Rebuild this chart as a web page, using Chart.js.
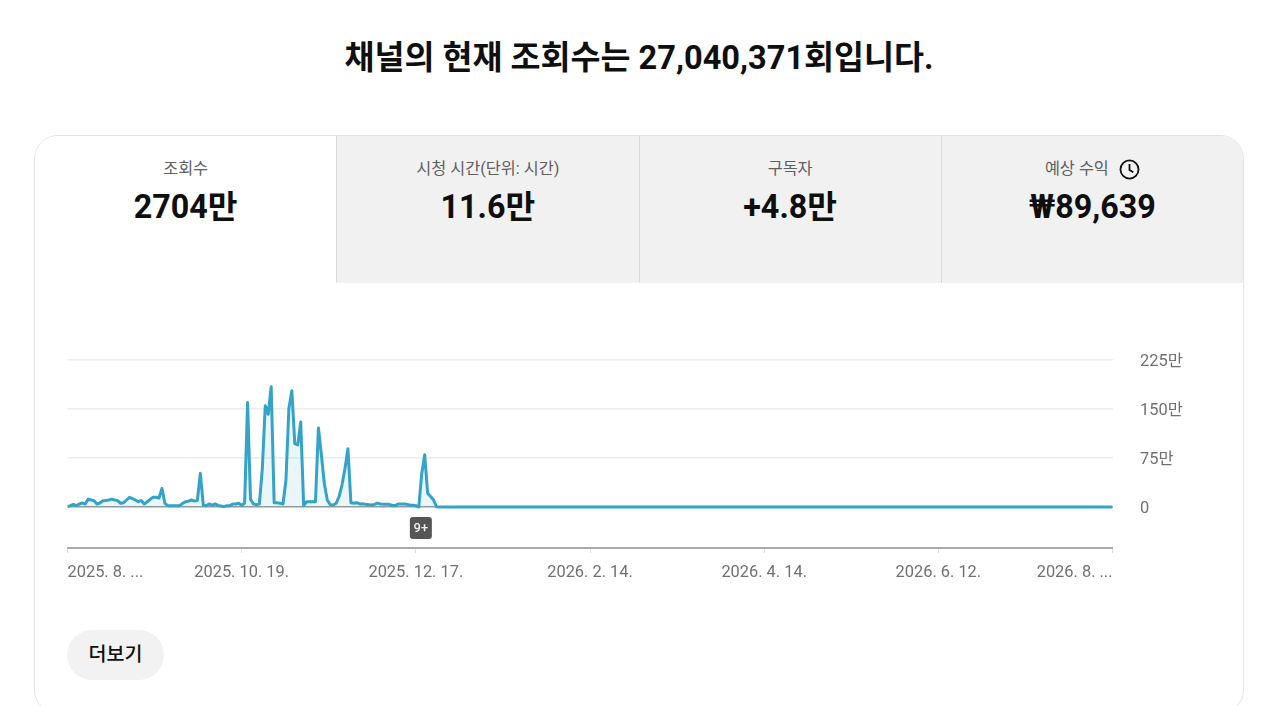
<!DOCTYPE html>
<html lang="ko">
<head>
<meta charset="utf-8">
<title>채널 조회수</title>
<script src="https://cdn.jsdelivr.net/npm/chart.js@4/dist/chart.umd.js"></script>
<style>
* { box-sizing: border-box; }
html, body { margin: 0; height: 706px; overflow: hidden; background: #fff; }
body { position: relative; font-family: Roboto, "Noto Sans CJK KR", sans-serif; color: #0f0f0f; }
h1 { position: absolute; left: 0; width: 1278px; top: 37px; margin: 0; text-align: center; font-size: 32.6px; line-height: 42px; font-weight: 700; }
.card { position: absolute; left: 34px; top: 135px; width: 1210px; height: 579px; border: 1px solid #e5e5e5; border-radius: 24px; overflow: hidden; }
.tabs { display: flex; height: 147px; }
.tab { flex: 1; background: #f1f1f1; border-left: 1px solid #d9d9d9; text-align: center; }
.tab.on { background: #fff; border-left: 0; }
.tab .name { margin-top: 22px; height: 22px; font-size: 16.3px; line-height: 22px; color: #606060; display: flex; justify-content: center; align-items: center; gap: 10px; }
.tab .val { margin-top: 6px; font-size: 32.3px; line-height: 42px; font-weight: 700; }
.wrap { position: absolute; left: 50px; top: 340px; width: 1150px; height: 240px; }
.more { position: absolute; left: 67px; top: 630px; width: 97px; height: 50px; border-radius: 25px; background: #f2f2f2; text-align: center; font-size: 19.5px; line-height: 50px; font-weight: 500; }
</style>
</head>
<body>
<h1>채널의 현재 조회수는 27,040,371회입니다.</h1>
<div class="card">
	<div class="tabs">
		<div class="tab on"><div class="name">조회수</div><div class="val">2704만</div></div>
		<div class="tab"><div class="name">시청 시간(단위: 시간)</div><div class="val">11.6만</div></div>
		<div class="tab"><div class="name">구독자</div><div class="val">+4.8만</div></div>
		<div class="tab"><div class="name">예상 수익
			<svg width="21" height="21" viewBox="0 0 20 20" fill="none" stroke="#0f0f0f" stroke-width="1.7"><circle cx="10" cy="10" r="8.6"/><path d="M10 4.8V10.4L13.6 12.6"/></svg>
		</div><div class="val">₩89,639</div></div>
	</div>
</div>
<div class="wrap"><canvas id="viewsChart"></canvas></div>
<div class="more">더보기</div>

<script>
// daily views (unit: 만), one entry per day from the first tick
var views = [
	0.5, 2, 4, 2, 4.6, 6, 4.6, 12, 10.7, 9.7,
	4.6, 6, 9.7, 10, 10.7, 12, 10.7, 9.7, 5.6, 6.6,
	10.7, 14.8, 12.8, 10.7, 8, 10, 4.6, 8, 11.7, 14.8,
	15, 13.8, 28.5, 5.6, 2, 2, 2, 2, 2, 5.6,
	8, 9, 10.7, 9, 10, 51.5, 3, 2, 4.6, 2.5,
	4.6, 2.5, 1.5, 0.5, 2, 2, 4.6, 4.6, 5.6, 2.5,
	5.6, 160, 11.7, 4.6, 3.6, 4.6, 59, 155, 142, 184,
	6.6, 6.6, 5.6, 4.6, 41, 151, 178, 97, 95, 130,
	2, 8, 8, 8, 8, 121, 80, 36, 10.7, 3.6,
	3, 5.6, 16, 34, 59, 89, 6.6, 5.6, 6.6, 4.6,
	5, 4, 3.5, 3, 4, 6, 4.5, 4, 4, 4,
	2.5, 2, 4.5, 4.5, 4.5, 4, 3, 2.5, 2, 0,
	51, 80, 21, 16, 10.7, 0.5, 0
];
var lastDay = 354;
var tickStep = 59;
var tickLabels = ['2025. 8. ...', '2025. 10. 19.', '2025. 12. 17.', '2026. 2. 14.', '2026. 4. 14.', '2026. 6. 12.', '2026. 8. ...'];
var yTicks = [0, 75, 150, 225];
var yLabels = ['0', '75만', '150만', '225만'];
var yMin = -62.8;
var badgeDay = 119.7;
var badgeText = '9+';

var tickFont = { family: 'Roboto, "Noto Sans CJK KR", sans-serif', size: 16.4 };

// little dark tag under the axis
var badgePlugin = {
	id: 'badge',
	afterDraw: function(chart) {
		var c = chart.ctx;
		var x = chart.scales.x.getPixelForValue(badgeDay);
		var y = 188;
		c.save();
		c.fillStyle = '#555';
		c.beginPath();
		c.roundRect(x - 11, y - 11, 22, 22, 3);
		c.fill();
		c.fillStyle = '#eeeeee';
		c.font = '500 13px Roboto, sans-serif';
		c.textAlign = 'center';
		c.textBaseline = 'middle';
		c.fillText(badgeText, x, y + 1);
		c.restore();
	}
};

var ctx = document.getElementById('viewsChart').getContext('2d');
var chart = new Chart(ctx, {
	type: 'line',
	data: {
		datasets: [{
			data: views.map(function(v, i) { return { x: i, y: v }; }).concat([{ x: lastDay, y: 0 }]),
			borderColor: '#33a3c8',
			borderWidth: 3,
			borderJoinStyle: 'round',
			backgroundColor: 'rgba(51, 163, 200, 0.1)',
			fill: { value: 0 },
			pointRadius: 0,
			tension: 0
		}]
	},
	options: {
		responsive: true,
		maintainAspectRatio: false,
		animation: false,
		layout: { padding: { left: 17.5, right: 0, top: 20, bottom: 0 } },
		plugins: { legend: { display: false }, tooltip: { enabled: false } },
		scales: {
			x: {
				type: 'linear',
				min: 0,
				max: lastDay,
				afterFit: function(scale) { scale.height = 32; },
				border: { color: '#aaaaaa', width: 2 },
				grid: { drawOnChartArea: false, tickLength: 5, tickColor: '#dddddd' },
				ticks: {
					stepSize: tickStep,
					autoSkip: false,
					maxRotation: 0,
					align: 'inner',
					padding: 10,
					color: '#707070',
					font: tickFont,
					callback: function(v, i) { return tickLabels[i]; }
				}
			},
			y: {
				position: 'right',
				min: yMin,
				max: 225,
				afterBuildTicks: function(scale) {
					scale.ticks = yTicks.map(function(v) { return { value: v }; });
				},
				afterFit: function(scale) { scale.width = 87.5; },
				border: { display: false },
				grid: {
					tickLength: 27.5,
					tickColor: 'transparent',
					lineWidth: 1.5,
					color: function(c) { return c.tick.value === 0 ? '#999999' : '#ececec'; }
				},
				ticks: {
					padding: 0,
					labelOffset: 1.5,
					color: '#707070',
					font: tickFont,
					callback: function(v) { return yLabels[yTicks.indexOf(v)]; }
				}
			}
		}
	},
	plugins: [badgePlugin]
});
</script>
</body>
</html>
